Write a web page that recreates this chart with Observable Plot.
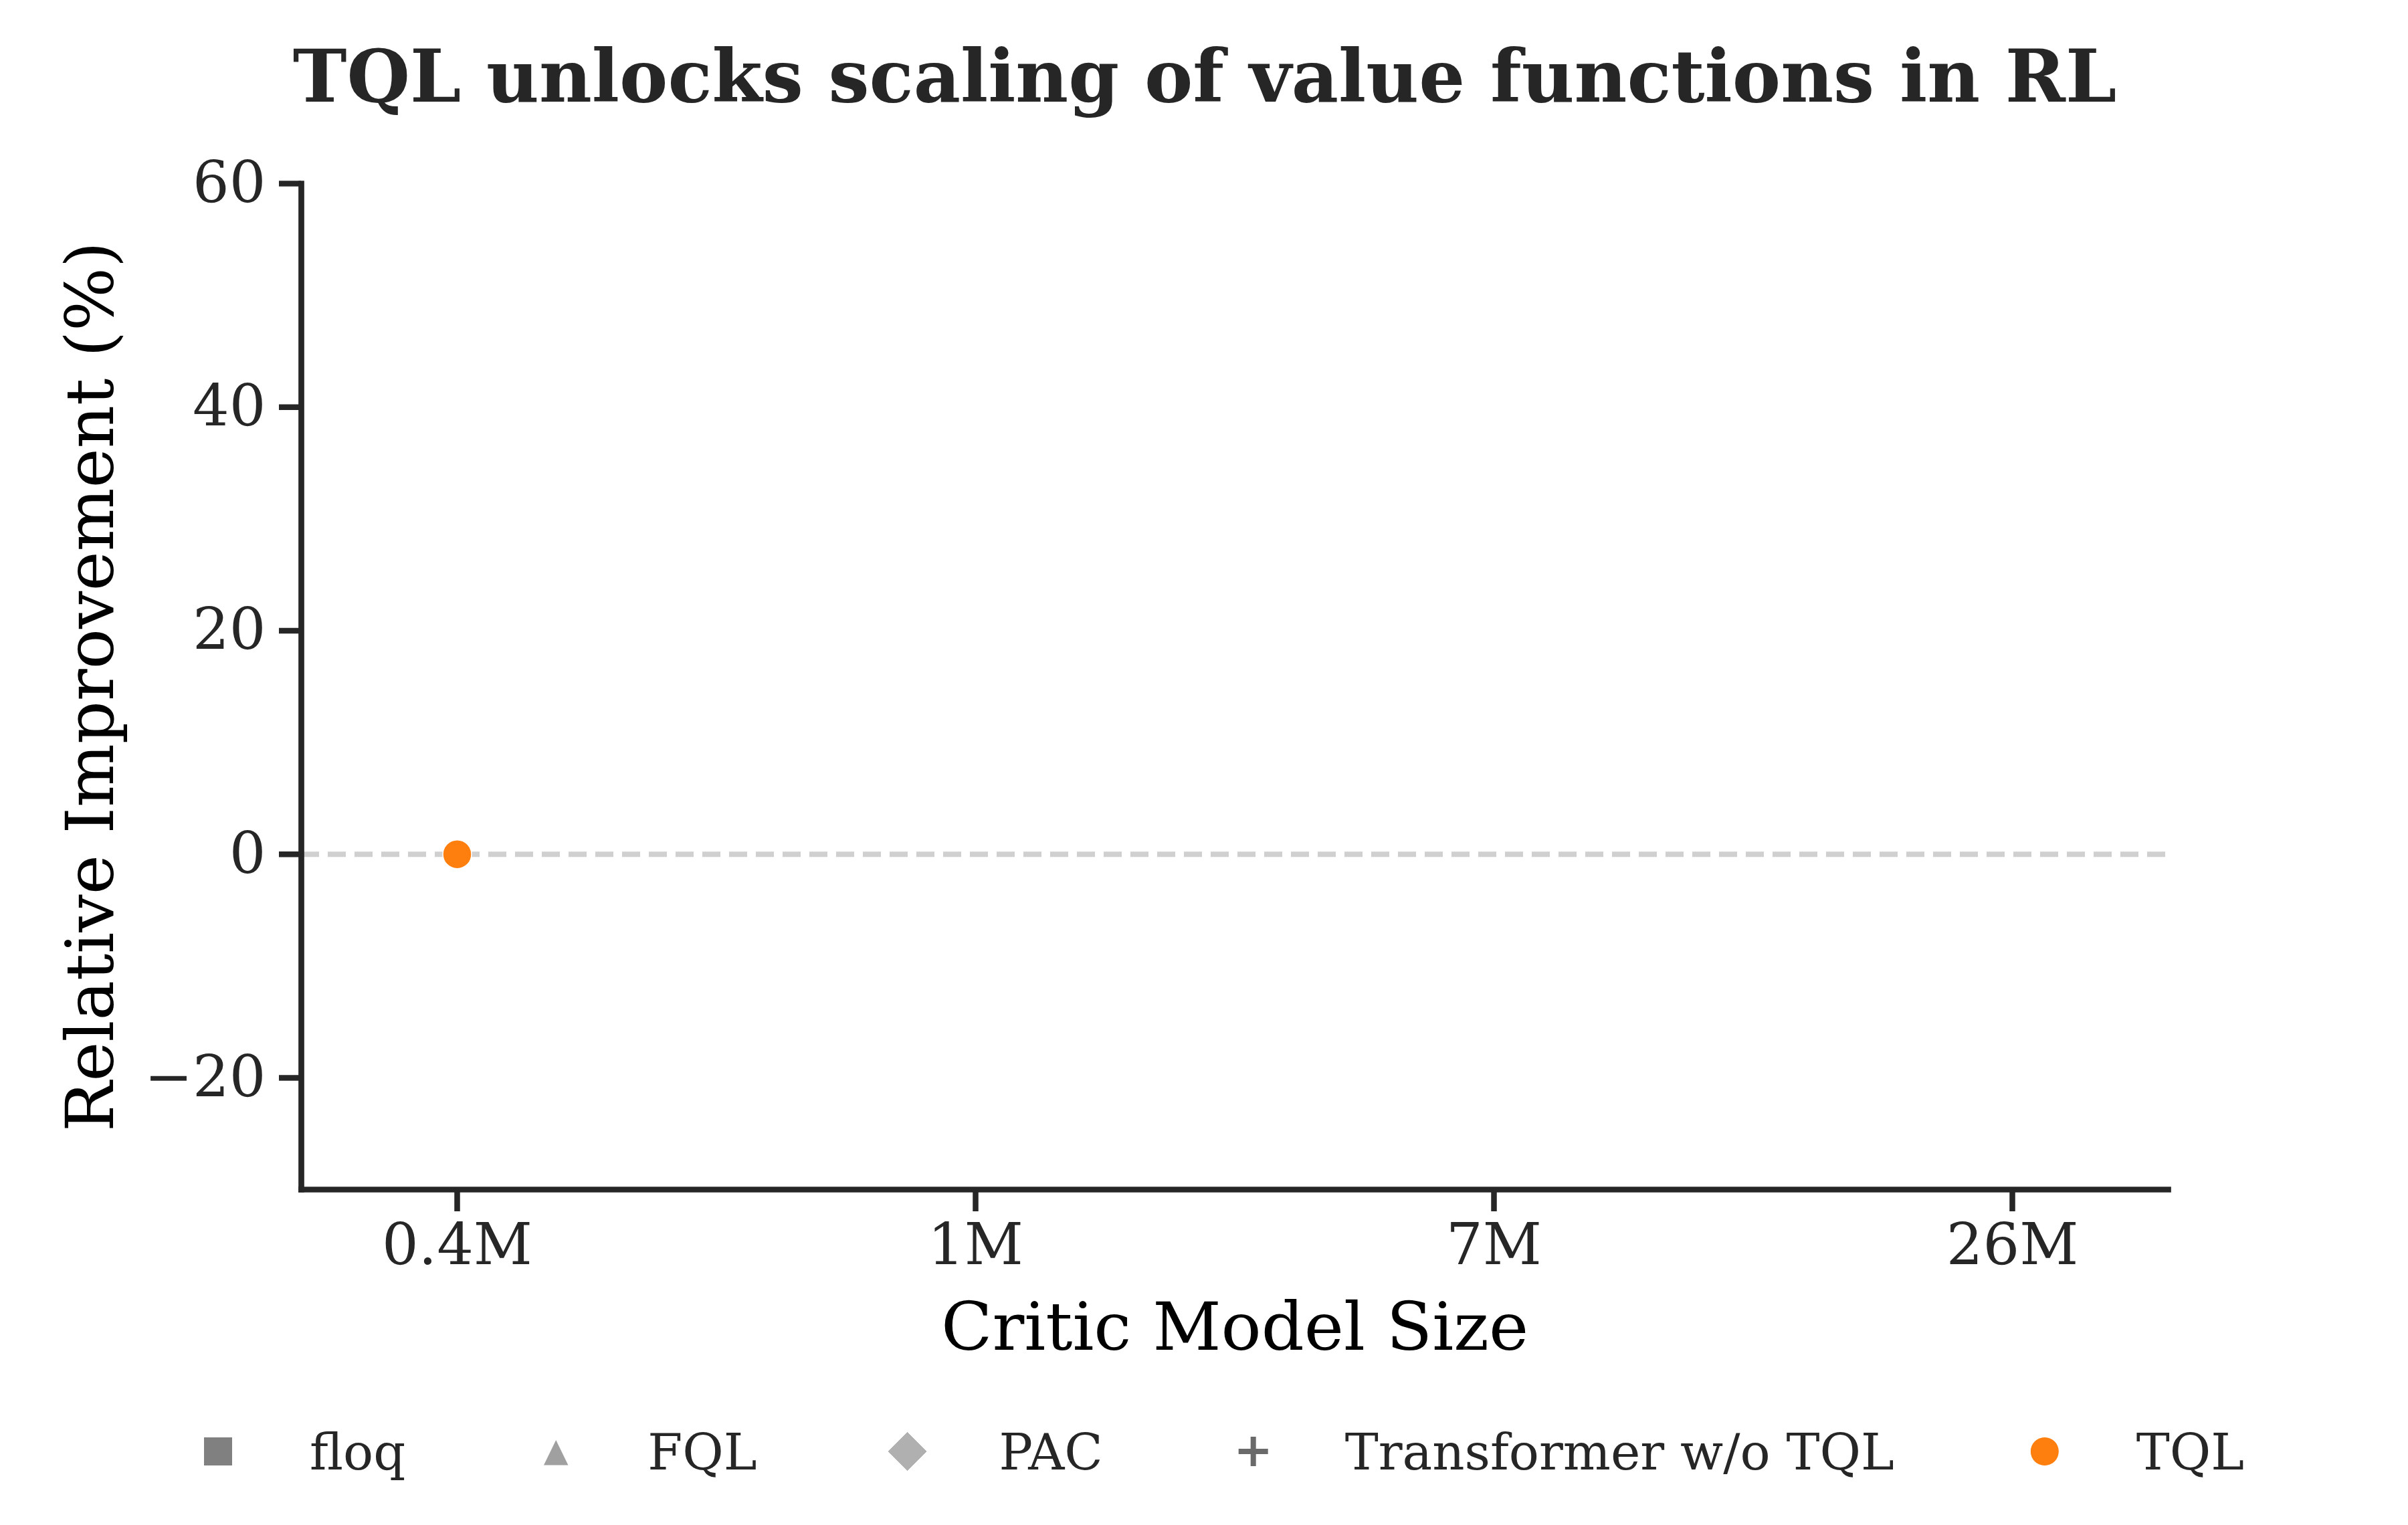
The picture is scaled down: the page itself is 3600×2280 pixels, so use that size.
<!DOCTYPE html>
<html>
<head>
<meta charset="utf-8">
<script src="https://cdn.jsdelivr.net/npm/d3@7"></script>
<script src="https://cdn.jsdelivr.net/npm/@observablehq/plot@0.6"></script>
<style>
html, body { margin: 0; padding: 0; background: #fff; }
#wrap { position: relative; width: 3600px; height: 2280px; background: #fff; overflow: hidden; }
#wrap svg { position: absolute; left: 0; top: 0; }
</style>
</head>
<body>
<div id="wrap"></div>
<script>
// ---- data ----
const sizes = ["0.4M", "1M", "7M", "26M"];
const seriesNames = ["floq", "FQL", "PAC", "Transformer w/o TQL", "TQL"];
const floqValues = [null, null, null, null];
const fqlValues = [null, null, null, null];
const pacValues = [null, null, null, null];
const transformerValues = [null, null, null, null];
const tqlValues = [0, null, null, null];
const seriesColors = ["#808080", "#a0a0a0", "#b0b0b0", "#6a6a6a", "#ff7f0e"];
const seriesSymbols = ["square", "triangle", "diamond", "plus", "circle"];
const yTicks = [-20, 0, 20, 40, 60];
const yDomain = [-30, 60];
const titleText = "TQL unlocks scaling of value functions in RL";
const xLabel = "Critic Model Size";
const yLabel = "Relative Improvement (%)";

const allValues = [floqValues, fqlValues, pacValues, transformerValues, tqlValues];
const rows = [];
seriesNames.forEach((name, i) => {
  sizes.forEach((s, j) => rows.push({series: name, size: s, value: allValues[i][j]}));
});

const font = "'DejaVu Serif', serif";

const dotMarks = seriesNames.map((name, i) => {
  const data = rows.filter(r => r.series === name);
  if (seriesSymbols[i] === "plus") {
    return Plot.dot(data, {x: "size", y: "value", symbol: "plus", stroke: seriesColors[i], strokeWidth: 8, r: 18});
  }
  return Plot.dot(data, {x: "size", y: "value", symbol: seriesSymbols[i], fill: seriesColors[i],
    stroke: "#fff", strokeWidth: 1.5, r: 21.5});
});

const chart = Plot.plot({
  width: 3600,
  height: 2280,
  marginLeft: 450,
  marginRight: 359,
  marginTop: 274,
  marginBottom: 502,
  style: {fontFamily: font, color: "#262626", background: "transparent", overflow: "visible"},
  x: {type: "point", domain: sizes, padding: 0.3},
  y: {domain: yDomain},
  marks: [
    Plot.ruleY([0], {stroke: "#d0d0d0", strokeWidth: 8, strokeDasharray: "27,13"}),
    Plot.axisX({tickSize: 33, tickPadding: 17, fontSize: 86, strokeWidth: 8.5, label: null}),
    Plot.axisY({ticks: yTicks, tickSize: 33, tickPadding: 20, fontSize: 86, strokeWidth: 8.5, label: null}),
    Plot.frame({anchor: "left", stroke: "#262626", strokeWidth: 8.7, strokeLinecap: "square"}),
    Plot.frame({anchor: "bottom", stroke: "#262626", strokeWidth: 8.7, strokeLinecap: "square"}),
    ...dotMarks,
    Plot.text([yLabel], {text: d => d, frameAnchor: "left", rotate: -90, dx: -282, lineAnchor: "bottom",
      textAnchor: "middle", fontSize: 100, fill: "#000"}),
    Plot.text([xLabel], {text: d => d, frameAnchor: "bottom", dy: 239, lineAnchor: "bottom",
      textAnchor: "middle", fontSize: 100, fill: "#000"})
  ]
});

const wrap = document.getElementById("wrap");
wrap.appendChild(chart);

// ---- overlay: title and legend ----
const svg = d3.select(wrap).append("svg")
  .attr("width", 3600).attr("height", 2280)
  .style("pointer-events", "none")
  .style("font-family", font);

svg.append("text")
  .attr("x", 1801).attr("y", 152)
  .attr("text-anchor", "middle")
  .attr("font-weight", "bold")
  .attr("font-size", 108.5)
  .attr("fill", "#262626")
  .text(titleText);

const legendY = 2170;
const textBaseline = 2197;
let cx = 326;
seriesNames.forEach((name, i) => {
  const g = svg.append("g");
  const col = seriesColors[i];
  const sym = seriesSymbols[i];
  if (sym === "square") {
    g.append("rect").attr("x", cx - 21.5).attr("y", legendY - 21.5).attr("width", 43).attr("height", 43)
      .attr("fill", col).attr("stroke", "#fff").attr("stroke-width", 1);
  } else if (sym === "triangle") {
    g.append("path").attr("d", `M${cx},${legendY - 18}L${cx + 19},${legendY + 21}L${cx - 19},${legendY + 21}Z`)
      .attr("fill", col).attr("stroke", "#fff").attr("stroke-width", 1);
  } else if (sym === "diamond") {
    g.append("path").attr("d", `M${cx},${legendY - 29.5}L${cx + 29.5},${legendY}L${cx},${legendY + 29.5}L${cx - 29.5},${legendY}Z`)
      .attr("fill", col).attr("stroke", "#fff").attr("stroke-width", 1);
  } else if (sym === "plus") {
    g.append("path").attr("d", `M${cx - 22},${legendY}H${cx + 22}M${cx},${legendY - 22}V${legendY + 22}`)
      .attr("stroke", col).attr("stroke-width", 8).attr("fill", "none");
  } else {
    g.append("circle").attr("cx", cx).attr("cy", legendY).attr("r", 21.5)
      .attr("fill", col).attr("stroke", "#fff").attr("stroke-width", 1);
  }
  const t = g.append("text")
    .attr("x", cx + 137).attr("y", textBaseline)
    .attr("font-size", 75).attr("fill", "#262626")
    .text(name);
  const w = t.node().getComputedTextLength();
  cx = cx + 137 + w + 225;
});
</script>
</body>
</html>
